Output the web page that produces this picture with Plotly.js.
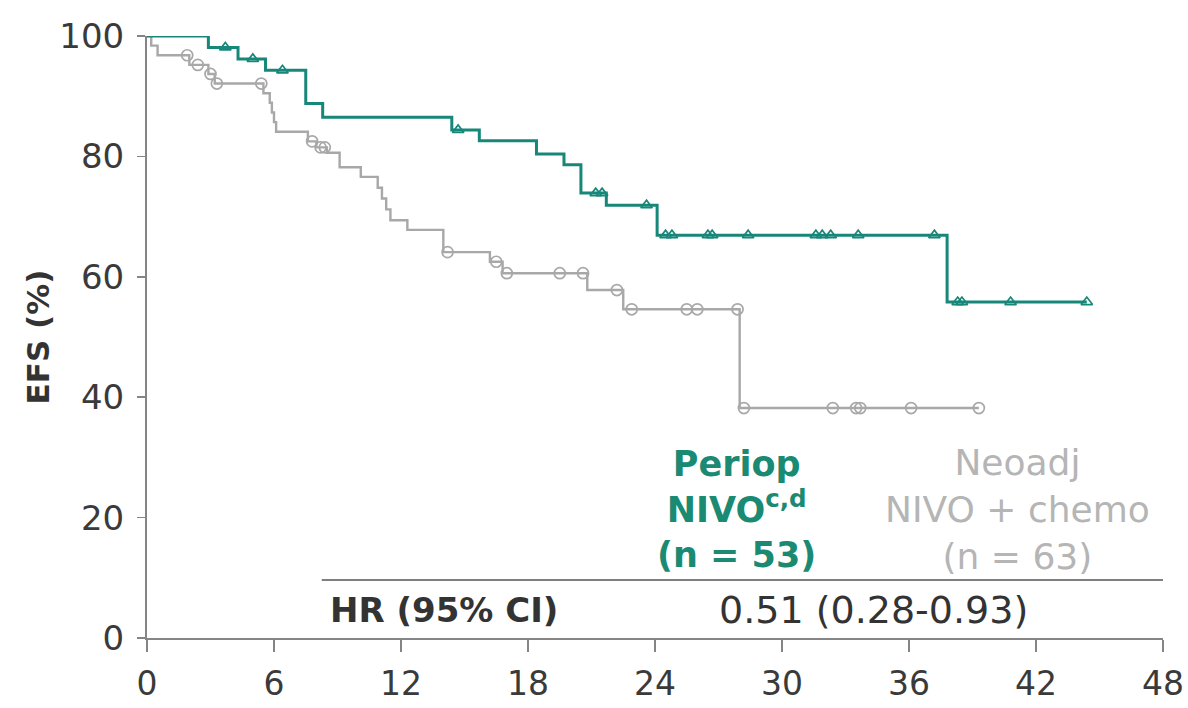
<!DOCTYPE html>
<html>
<head>
<meta charset="utf-8">
<script src="https://cdn.plot.ly/plotly-3.0.1.min.js"></script>
<style>html,body{margin:0;padding:0;background:#fff;}#chart{width:1188px;height:708px;}</style>
</head>
<body>
<div id="chart"></div>
<script>
// Periop NIVO (n = 53): event times (months) and EFS (%)
const periopTimes = [0, 2.9, 4.3, 5.6, 7.5, 8.3, 14.4, 15.7, 18.4, 19.7, 20.5, 21.7, 24.1, 37.8, 44.4];
const periopEFS   = [100, 98.1, 96.2, 94.3, 88.8, 86.5, 84.4, 82.6, 80.4, 78.6, 73.9, 71.9, 66.9, 55.8, 55.8];
const periopCensor = [3.7, 5.0, 6.4, 14.7, 21.2, 21.5, 23.6, 24.5, 24.8, 26.5, 26.7, 28.4, 31.6, 31.9, 32.3, 33.6, 37.2, 38.3, 38.5, 40.8, 44.4];

// Neoadj NIVO + chemo (n = 63)
const neoTimes = [0, 0.2, 0.5, 2.0, 2.9, 3.2, 5.5, 5.8, 5.9, 6.0, 6.1, 7.6, 8.0, 8.5, 9.1, 10.1, 10.9, 11.1, 11.3, 11.5, 12.3, 14.0, 16.2, 16.8, 20.8, 22.5, 28.0, 39.3];
const neoEFS   = [100, 98.4, 96.8, 95.2, 93.7, 92.1, 90.5, 88.9, 87.3, 85.7, 84.1, 82.5, 81.5, 80.6, 78.2, 76.6, 74.8, 73.0, 71.2, 69.4, 67.8, 64.1, 62.5, 60.6, 57.8, 54.6, 38.2, 38.2];
const neoCensor = [1.9, 2.4, 3.0, 3.3, 5.4, 7.8, 8.2, 8.4, 14.2, 16.5, 17.0, 19.5, 20.6, 22.2, 22.9, 25.5, 26.0, 27.9, 28.2, 32.4, 33.5, 33.7, 36.1, 39.3];

const xTicks = [0, 6, 12, 18, 24, 30, 36, 42, 48];
const yTicks = [0, 20, 40, 60, 80, 100];

const teal = '#17877a';
const grey = '#a8a8a8';

function stepAt(times, vals, t) {
  let v = vals[0];
  for (let i = 0; i < times.length; i++) { if (times[i] <= t) v = vals[i]; }
  return v;
}

const traces = [
  {x: neoTimes, y: neoEFS, type: 'scatter', mode: 'lines', line: {shape: 'hv', color: grey, width: 2.4}, hoverinfo: 'skip'},
  {x: neoCensor, y: neoCensor.map(t => stepAt(neoTimes, neoEFS, t)), type: 'scatter', mode: 'markers',
   marker: {symbol: 'circle-open', size: 11, color: grey, line: {width: 1.7, color: grey}}, cliponaxis: false},
  {x: periopTimes, y: periopEFS, type: 'scatter', mode: 'lines', line: {shape: 'hv', color: teal, width: 3}, hoverinfo: 'skip'},
  {x: periopCensor, y: periopCensor.map(t => stepAt(periopTimes, periopEFS, t)), type: 'scatter', mode: 'markers',
   marker: {symbol: 'triangle-up-open', size: 10, color: teal, line: {width: 1.7, color: teal}}, cliponaxis: false}
];

const layout = {
  width: 1188, height: 708,
  margin: {l: 147, r: 25, t: 36, b: 70},
  paper_bgcolor: '#ffffff', plot_bgcolor: '#ffffff',
  showlegend: false,
  xaxis: {
    range: [0, 48], tickvals: xTicks, ticktext: xTicks.map(String),
    showgrid: false, zeroline: false, showline: true, linecolor: '#858585', linewidth: 2,
    ticks: 'outside', ticklen: 12, tickwidth: 1.5, tickcolor: '#858585',
    tickfont: {family: 'DejaVu Sans, sans-serif', size: 33, color: '#3a3a3a'}, ticklabelstandoff: 3
  },
  yaxis: {
    range: [0, 100], tickvals: yTicks, ticktext: yTicks.map(String),
    showgrid: false, zeroline: false, showline: true, linecolor: '#858585', linewidth: 2,
    ticks: 'outside', ticklen: 8, tickwidth: 1.5, tickcolor: '#858585',
    tickfont: {family: 'DejaVu Sans, sans-serif', size: 34, color: '#3a3a3a'}, ticklabelstandoff: 6,
    title: {text: 'EFS (%)', font: {family: 'DejaVu Sans, sans-serif', size: 31, color: '#333333', weight: 'bold'}, standoff: 0}
  },
  shapes: [
    {type: 'line', xref: 'paper', yref: 'paper', x0: 0.172, x1: 1.0, y0: 0.0963, y1: 0.0963, line: {color: '#555555', width: 1.5}}
  ],
  annotations: [
    {xref: 'paper', yref: 'paper', x: 0.5807, y: 0.214, xanchor: 'center', yanchor: 'middle', showarrow: false, align: 'center',
     text: '<b>Periop<br>NIVO<sup style="font-size:60%">c,d</sup><br>(n = 53)</b>',
     font: {family: 'DejaVu Sans, sans-serif', size: 35, color: '#1a8a72'}},
    {xref: 'paper', yref: 'paper', x: 0.857, y: 0.214, xanchor: 'center', yanchor: 'middle', showarrow: false, align: 'center',
     text: 'Neoadj<br>NIVO + chemo<br>(n = 63)',
     font: {family: 'DejaVu Sans, sans-serif', size: 36, color: '#b5b5b5'}},
    {xref: 'paper', yref: 'paper', x: 0.178, y: 0.0465, xanchor: 'left', yanchor: 'middle', showarrow: false,
     text: '<b>HR (95% CI)</b>',
     font: {family: 'DejaVu Sans, sans-serif', size: 34, color: '#333333'}},
    {xref: 'paper', yref: 'paper', x: 0.7146, y: 0.0465, xanchor: 'center', yanchor: 'middle', showarrow: false,
     text: '0.51 (0.28-0.93)',
     font: {family: 'DejaVu Sans, sans-serif', size: 38, color: '#333333'}}
  ]
};

Plotly.newPlot('chart', traces, layout, {displayModeBar: false, staticPlot: true});
</script>
</body>
</html>
